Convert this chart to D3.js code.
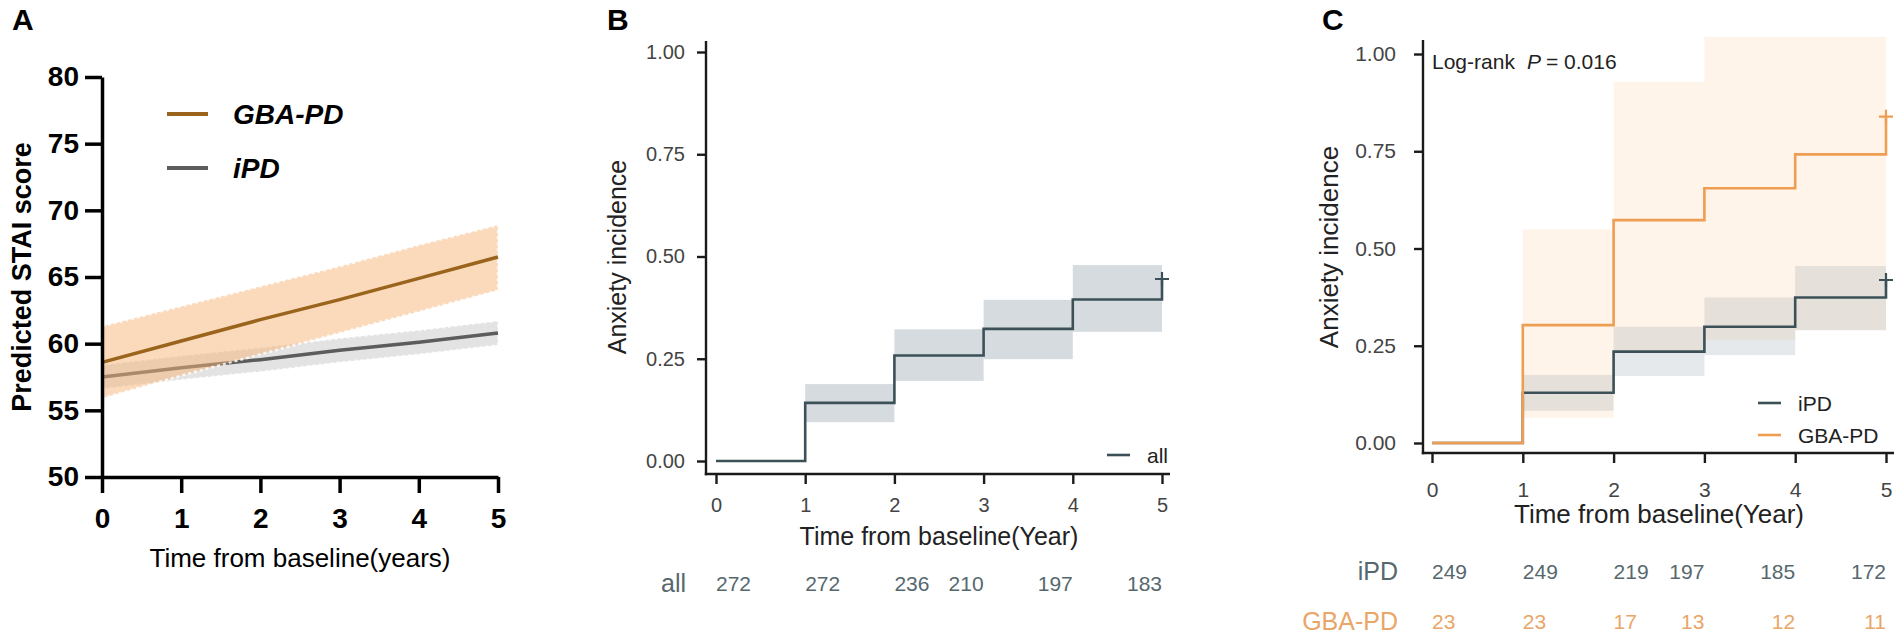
<!doctype html>
<html>
<head>
<meta charset="UTF-8">
<title>STAI score and anxiety incidence</title>
<script src="https://d3js.org/d3.v7.min.js"></script>
<style>
  body { margin: 0; background: #fff; }
  svg { display: block; font-family: "Liberation Sans", Arial, sans-serif; }
</style>
</head>
<body>
<svg id="fig" width="1903" height="641"></svg>
<script>
// ---------- data ----------
// A: predicted STAI score, linear mixed model
var years = [0, 1, 2, 3, 4, 5];
var scoreTicks = [50, 55, 60, 65, 70, 75, 80];
var gbaScore   = [58.6, 60.2, 61.8, 63.3, 64.9, 66.5];
var gbaScoreHi = [61.3, 62.8, 64.3, 65.8, 67.4, 68.9];
var gbaScoreLo = [55.9, 57.6, 59.2, 60.8, 62.4, 64.0];
var ipdScore   = [57.5, 58.2, 58.8, 59.5, 60.1, 60.8];
var ipdScoreHi = [58.4, 59.1, 59.7, 60.4, 61.0, 61.7];
var ipdScoreLo = [56.6, 57.3, 57.9, 58.6, 59.2, 59.9];

// B / C: cumulative anxiety incidence (Kaplan-Meier)
var kmTimes = [0, 1, 2, 3, 4, 5];
var incTicks = [0, 0.25, 0.5, 0.75, 1];
var ciTimes = [1, 2, 3, 4];           // each CI step lasts one year
var allInc = [0, 0.142, 0.258, 0.323, 0.395, 0.445];
var allLo  = [0.095, 0.196, 0.249, 0.316];
var allHi  = [0.188, 0.322, 0.394, 0.479];
var allRisk = [272, 272, 236, 210, 197, 183];

var ipdInc = [0, 0.129, 0.235, 0.299, 0.374, 0.419];
var ipdLo  = [0.083, 0.172, 0.226, 0.290];
var ipdHi  = [0.175, 0.299, 0.374, 0.455];
var gbaInc = [0, 0.303, 0.573, 0.655, 0.742, 0.839];
var gbaLo  = [0.065, 0.231, 0.265, 0.290];
var gbaHi  = [0.549, 0.929, 1.044, 1.044];
var ipdRisk = [249, 249, 219, 197, 185, 172];
var gbaRisk = [23, 23, 17, 13, 12, 11];

var slate = "#3c5157";
var orange = "#ee9d52";

var svg = d3.select("#fig");

// ---------- panel letters ----------
svg.selectAll(".letter")
  .data([["A", 12], ["B", 607], ["C", 1322]])
  .enter().append("text")
  .attr("x", function (d) { return d[1]; })
  .attr("y", 30)
  .attr("font-size", 30)
  .attr("font-weight", "bold")
  .text(function (d) { return d[0]; });

// ---------- panel A ----------
var xA = d3.scaleLinear().domain([0, 5]).range([102, 498]);
var yA = d3.scaleLinear().domain([50, 80]).range([477, 77]);
var gA = svg.append("g");

function scoreBand(lo, hi) {
  return d3.area()
    .x(function (d, i) { return xA(years[i]); })
    .y0(function (d, i) { return yA(lo[i]); })
    .y1(function (d, i) { return yA(hi[i]); })(years);
}
function scoreLine(v) {
  return d3.line()
    .x(function (d, i) { return xA(years[i]); })
    .y(function (d, i) { return yA(v[i]); })(years);
}

gA.append("path").attr("d", scoreBand(ipdScoreLo, ipdScoreHi))
  .attr("fill", "#e3e3e3")
  .attr("stroke", "#fff").attr("stroke-opacity", 0.7)
  .attr("stroke-width", 2).attr("stroke-dasharray", "3,3");
gA.append("path").attr("d", scoreLine(ipdScore))
  .attr("fill", "none").attr("stroke", "#5c5c5c").attr("stroke-width", 3.5);
gA.append("path").attr("d", scoreBand(gbaScoreLo, gbaScoreHi))
  .attr("fill", "#f7b57a").attr("fill-opacity", 0.5)
  .attr("stroke", "#fff").attr("stroke-opacity", 0.8)
  .attr("stroke-width", 2.5).attr("stroke-dasharray", "3,3");
gA.append("path").attr("d", scoreLine(gbaScore))
  .attr("fill", "none").attr("stroke", "#9a641c").attr("stroke-width", 3.5);

var ayA = gA.append("g").attr("transform", "translate(102,0)")
  .call(d3.axisLeft(yA).tickValues(scoreTicks).tickSize(17).tickSizeOuter(0).tickPadding(6));
var axA = gA.append("g").attr("transform", "translate(0,477)")
  .call(d3.axisBottom(xA).tickValues(years).tickFormat(d3.format("d"))
    .tickSize(16).tickSizeOuter(0).tickPadding(15));
[ayA, axA].forEach(function (a) {
  a.attr("font-family", null).attr("font-size", 28).attr("font-weight", "bold");
  a.selectAll("path, line").attr("stroke", "#000").attr("stroke-width", 3.5);
  a.selectAll("text").attr("fill", "#000");
});

gA.append("text")
  .attr("transform", "translate(31,277) rotate(-90)")
  .attr("text-anchor", "middle")
  .attr("font-size", 27).attr("font-weight", "bold")
  .text("Predicted STAI score");
gA.append("text")
  .attr("x", 300).attr("y", 567)
  .attr("text-anchor", "middle").attr("font-size", 26)
  .text("Time from baseline(years)");

var legA = gA.selectAll(".legA")
  .data([["GBA-PD", "#9a641c", 114], ["iPD", "#5c5c5c", 168]])
  .enter().append("g");
legA.append("line")
  .attr("x1", 167).attr("x2", 208)
  .attr("y1", function (d) { return d[2]; }).attr("y2", function (d) { return d[2]; })
  .attr("stroke", function (d) { return d[1]; }).attr("stroke-width", 4);
legA.append("text")
  .attr("x", 233).attr("y", function (d) { return d[2] + 10; })
  .attr("font-size", 28).attr("font-weight", "bold").attr("font-style", "italic")
  .text(function (d) { return d[0]; });

// ---------- panels B and C (KM curves) ----------
function kmPanel(o) {
  var g = svg.append("g");
  var x = d3.scaleLinear().domain([0, 5]).range(o.xr);
  var y = d3.scaleLinear().domain([0, 1]).range(o.yr);

  // confidence bands
  o.bands.forEach(function (s) {
    g.append("g").selectAll("rect").data(ciTimes).enter().append("rect")
      .attr("x", function (t) { return x(t); })
      .attr("width", function (t) { return x(t + 1) - x(t); })
      .attr("y", function (t, i) { return y(s.hi[i]); })
      .attr("height", function (t, i) { return y(s.lo[i]) - y(s.hi[i]); })
      .attr("fill", s.fill).attr("fill-opacity", s.op);
  });

  // step curves + censor mark at the end
  var step = d3.line().curve(d3.curveStepAfter);
  o.curves.forEach(function (s) {
    g.append("path")
      .attr("d", step(kmTimes.map(function (t, i) { return [x(t), y(s.inc[i])]; })))
      .attr("fill", "none").attr("stroke", s.color).attr("stroke-width", 2.6);
    var last = kmTimes.length - 1;
    g.append("path")
      .attr("transform", "translate(" + x(kmTimes[last]) + "," + y(s.inc[last]) + ")")
      .attr("d", "M-7,0H7M0,-7V7")
      .attr("stroke", s.color).attr("stroke-width", 2.2);
  });

  // axes
  var ay = g.append("g").attr("transform", "translate(" + o.axX + ",0)")
    .call(d3.axisLeft(y).tickValues(incTicks).tickFormat(d3.format(".2f")).tickSize(9).tickPadding(o.padY));
  var ax = g.append("g").attr("transform", "translate(0," + o.axY + ")")
    .call(d3.axisBottom(x).tickValues(kmTimes).tickFormat(d3.format("d")).tickSize(10).tickPadding(o.padX));
  [ay, ax].forEach(function (a) {
    a.select(".domain").remove();
    a.attr("font-family", null).attr("font-size", o.tickFont);
    a.selectAll("line").attr("stroke", "#1a1a1a").attr("stroke-width", 2.4);
    a.selectAll("text").attr("fill", "#444");
  });
  g.append("line").attr("x1", o.axX).attr("x2", o.axX)
    .attr("y1", o.axTop).attr("y2", o.axY + 1.2)
    .attr("stroke", "#1a1a1a").attr("stroke-width", 2.4);
  g.append("line").attr("x1", o.axX - 1.2).attr("x2", o.axRight)
    .attr("y1", o.axY).attr("y2", o.axY)
    .attr("stroke", "#1a1a1a").attr("stroke-width", 2.4);

  g.append("text")
    .attr("transform", "translate(" + o.yTitle[0] + "," + o.yTitle[1] + ") rotate(-90)")
    .attr("text-anchor", "middle").attr("font-size", o.titleFont).attr("fill", "#222")
    .text("Anxiety incidence");
  g.append("text")
    .attr("x", (o.xr[0] + o.xr[1]) / 2).attr("y", o.xTitleY)
    .attr("text-anchor", "middle").attr("font-size", o.titleFont).attr("fill", "#222")
    .text("Time from baseline(Year)");

  // legend
  o.legend.forEach(function (l) {
    g.append("line").attr("x1", l.x).attr("x2", l.x + 23)
      .attr("y1", l.y).attr("y2", l.y)
      .attr("stroke", l.color).attr("stroke-width", 2.6);
    g.append("text").attr("x", l.x + 40).attr("y", l.y + 7.5)
      .attr("font-size", 21).attr("fill", "#222").text(l.name);
  });

  // numbers at risk
  o.rows.forEach(function (r) {
    g.append("text").attr("x", o.rowLabelX).attr("y", r.y + 9)
      .attr("text-anchor", "end").attr("font-size", 25).attr("fill", r.color)
      .text(r.name);
    g.append("g").selectAll("text").data(r.risk).enter().append("text")
      .attr("x", function (d, i) { return x(kmTimes[i]); })
      .attr("y", r.y + 7.5)
      .attr("text-anchor", function (d, i) { return i < 3 ? "start" : "end"; })
      .attr("font-size", 21).attr("fill", r.color)
      .text(function (d) { return d; });
  });
  return g;
}

kmPanel({
  xr: [716, 1162], yr: [461, 52],
  axX: 706, axY: 474, axTop: 41, axRight: 1170,
  padY: 12, padX: 14, tickFont: 20, titleFont: 25,
  xTitleY: 545, yTitle: [626, 257],
  bands: [{ lo: allLo, hi: allHi, fill: "#d6dbdf", op: 1 }],
  curves: [{ inc: allInc, color: slate }],
  legend: [{ name: "all", color: slate, x: 1107, y: 455 }],
  rowLabelX: 686,
  rows: [{ name: "all", risk: allRisk, color: "#56686d", y: 583 }]
});

var gC = kmPanel({
  xr: [1432, 1886], yr: [443, 54],
  axX: 1423, axY: 453, axTop: 40, axRight: 1894,
  padY: 18, padX: 19, tickFont: 21, titleFont: 26,
  xTitleY: 523, yTitle: [1338, 247],
  bands: [{ lo: gbaLo, hi: gbaHi, fill: "#f9c98f", op: 0.2 },
          { lo: ipdLo, hi: ipdHi, fill: "#8f9ba3", op: 0.22 }],
  curves: [{ inc: ipdInc, color: slate }, { inc: gbaInc, color: orange }],
  legend: [{ name: "iPD", color: slate, x: 1758, y: 403 },
           { name: "GBA-PD", color: orange, x: 1758, y: 435 }],
  rowLabelX: 1398,
  rows: [{ name: "iPD", risk: ipdRisk, color: "#56686d", y: 571 },
         { name: "GBA-PD", risk: gbaRisk, color: "#e9a668", y: 621 }]
});

var lr = gC.append("text").attr("x", 1432).attr("y", 68.5)
  .attr("font-size", 21).attr("fill", "#222");
lr.append("tspan").text("Log-rank");
lr.append("tspan").attr("dx", 12).attr("font-style", "italic").text("P");
lr.append("tspan").attr("dx", 5).text("= 0.016");
</script>
</body>
</html>
